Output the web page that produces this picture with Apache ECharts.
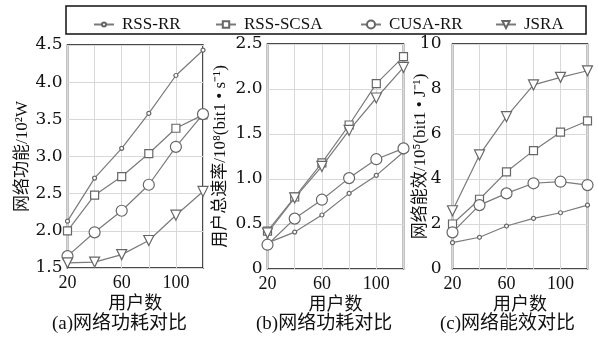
<!DOCTYPE html>
<html>
<head>
<meta charset="utf-8">
<script src="https://cdn.jsdelivr.net/npm/echarts@6/dist/echarts.min.js"></script>
<style>
html,body{margin:0;padding:0;background:#fff;}
#c{width:598px;height:343px;}
</style>
</head>
<body>
<div id="c"></div>
<script>
// ---- data ----
var users = [20, 40, 60, 80, 100, 120];
var xTickLabels = [20, 60, 100];
var seriesNames = ['RSS-RR', 'RSS-SCSA', 'CUSA-RR', 'JSRA'];

// (a) network power consumption, 10^2 W
var rssRR_a   = [2.13, 2.71, 3.11, 3.58, 4.09, 4.43];
var rssSCSA_a = [2.00, 2.48, 2.73, 3.04, 3.38, 3.56];
var cusaRR_a  = [1.66, 1.98, 2.27, 2.62, 3.13, 3.57];
var jsra_a    = [1.57, 1.58, 1.68, 1.87, 2.21, 2.53];

// (b) total user rate, 10^8 bit/s
var rssRR_b   = [0.29, 0.41, 0.60, 0.84, 1.04, 1.30];
var rssSCSA_b = [0.42, 0.80, 1.18, 1.60, 2.06, 2.36];
var cusaRR_b  = [0.27, 0.56, 0.77, 1.01, 1.22, 1.34];
var jsra_b    = [0.40, 0.79, 1.14, 1.54, 1.90, 2.24];

// (c) energy efficiency, 10^5 bit/J
var rssRR_c   = [1.17, 1.41, 1.91, 2.25, 2.50, 2.84];
var rssSCSA_c = [2.00, 3.10, 4.32, 5.26, 6.08, 6.58];
var cusaRR_c  = [1.63, 2.84, 3.36, 3.81, 3.88, 3.73];
var jsra_c    = [2.59, 5.07, 6.77, 8.18, 8.52, 8.81];

var yNames = ['网络功能/10²W', '用户总速率/10⁸(bit1 • s⁻¹)', '网络能效/10⁵(bit1 • J⁻¹)'];
var xName = '用户数';
var captions = ['(a)网络功耗对比', '(b)网络功耗对比', '(c)网络能效对比'];
var yMin = [1.5, 0, 0], yMax = [4.5, 2.5, 10], yInt = [0.5, 0.5, 2];

// ---- chart ----
var FONT = "'Liberation Serif','Noto Sans CJK SC',serif";
var LINE = '#7a7a7a';
var symbols = [
  {symbol: 'circle', size: 4, rotate: 0, legendH: 5},
  {symbol: 'rect', size: 8, rotate: 0, legendH: 8},
  {symbol: 'circle', size: 11, rotate: 0, legendH: 10},
  {symbol: 'triangle', size: 10, rotate: 180, legendH: 9}
];
var panelData = [
  [rssRR_a, rssSCSA_a, cusaRR_a, jsra_a],
  [rssRR_b, rssSCSA_b, cusaRR_b, jsra_b],
  [rssRR_c, rssSCSA_c, cusaRR_c, jsra_c]
];
var grids = [
  {left: 67.5, top: 45, width: 135.5, height: 223},
  {left: 267.5, top: 44, width: 136, height: 225},
  {left: 452.5, top: 44, width: 135, height: 225}
];
var yNameGap = [36, 38, 23];
var yLabelMargin = [5, 5, 11];
var captionLeft = [52, 256, 440];

var option = {
  animation: false,
  backgroundColor: '#fff',
  grid: grids.map(function (g) {
    return Object.assign({show: true, borderColor: '#111', borderWidth: 1.5, backgroundColor: 'transparent'}, g);
  }),
  xAxis: grids.map(function (g, i) {
    return {
      type: 'value', gridIndex: i, min: 20, max: 120, interval: 20,
      name: xName, nameLocation: 'middle', nameGap: 27, nameMoveOverlap: false,
      nameTextStyle: {fontFamily: FONT, fontSize: 18, color: '#111'},
      axisLine: {show: false}, axisTick: {show: false},
      splitLine: {show: true, lineStyle: {color: '#d8d8d8', width: 1}},
      axisLabel: {
        margin: 6, fontFamily: FONT, fontSize: 18, color: '#111',
        formatter: function (v) { return xTickLabels.indexOf(v) >= 0 ? String(v) : ''; }
      }
    };
  }),
  yAxis: grids.map(function (g, i) {
    return {
      type: 'value', gridIndex: i, min: yMin[i], max: yMax[i], interval: yInt[i],
      name: yNames[i], nameLocation: 'middle', nameGap: yNameGap[i], nameRotate: 90,
      nameMoveOverlap: false,
      nameTextStyle: {fontFamily: FONT, fontSize: 17, color: '#111'},
      axisLine: {show: false}, axisTick: {show: false},
      splitLine: {show: true, lineStyle: {color: '#d8d8d8', width: 1}},
      axisLabel: {
        margin: yLabelMargin[i], fontFamily: "'DejaVu Serif',serif", fontSize: 17, color: '#111',
        formatter: function (v) { return (i < 2 && v !== 0) ? v.toFixed(1) : String(v); }
      }
    };
  }),
  legend: seriesNames.map(function (n, k) {
    return {
      data: [n], left: [88, 210, 355, 490][k], top: 11,
      itemWidth: 20, itemHeight: symbols[k].legendH, itemGap: 0,
      textStyle: {fontFamily: FONT, fontSize: 17, color: '#111', padding: [0, 0, 0, 3]}
    };
  }),
  graphic: [
    {type: 'rect', shape: {x: 66, y: 6, width: 520, height: 28},
     style: {fill: 'none', stroke: '#111', lineWidth: 1.5}, z: 10}
  ].concat(captions.map(function (c, i) {
    return {type: 'text', left: captionLeft[i], top: 315,
            style: {text: c, font: "19px " + FONT, fill: '#111'}};
  })),
  series: []
};

panelData.forEach(function (arrs, p) {
  arrs.forEach(function (vals, k) {
    option.series.push({
      name: seriesNames[k], type: 'line', xAxisIndex: p, yAxisIndex: p,
      data: users.map(function (u, j) { return [u, vals[j]]; }),
      symbol: symbols[k].symbol, symbolSize: symbols[k].size, symbolRotate: symbols[k].rotate,
      showAllSymbol: true,
      lineStyle: {color: LINE, width: 1.2},
      itemStyle: {color: '#fff', borderColor: '#666', borderWidth: 1.2},
      z: 3 + k
    });
  });
});

var chart = echarts.init(document.getElementById('c'), null, {renderer: 'canvas'});
chart.setOption(option);
</script>
</body>
</html>
